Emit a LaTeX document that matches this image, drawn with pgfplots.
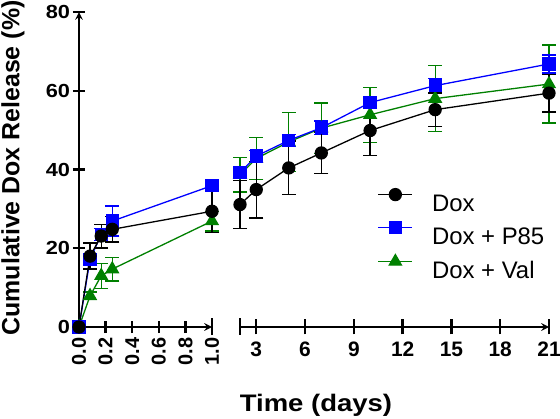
\documentclass[border=0pt]{standalone}
\usepackage{fontspec}
\setmainfont{Liberation Sans}
\newfontfamily\widefont[FakeStretch=1.15]{Liberation Sans}
\usepackage{pgfplots}
\pgfplotsset{compat=1.18}
\definecolor{cblue}{RGB}{0,0,255}
\definecolor{cgreen}{RGB}{0,128,0}

\pgfplotstableread{
x y e
0 0 0
0.083 18.0 3.3
0.167 23.1 3.0
0.25 24.8 3.2
1.0 29.4 5.4
}\doxL
\pgfplotstableread{
x y e
2 31.1 6.1
3 34.9 7.2
5 40.4 6.8
7 44.2 5.3
10 49.9 6.3
14 55.2 4.2
21 59.4 4.8
}\doxR
\pgfplotstableread{
x y e
0 0 0
0.083 17.2 1.5
0.167 23.5 1.5
0.25 26.9 3.8
1.0 35.9 1.0
}\pL
\pgfplotstableread{
x y e
2 39.2 1.5
3 43.4 1.5
5 47.4 1.5
7 50.6 1.7
10 57.0 1.5
14 61.3 1.8
21 66.8 2.3
}\pR
\pgfplotstableread{
x y e
0 0 0
0.083 7.9 1.0
0.167 13.0 3.2
0.25 14.7 3.0
1.0 26.9 2.5
}\vL
\pgfplotstableread{
x y e
2 38.7 4.4
3 42.8 5.3
5 47.0 7.5
7 50.5 6.4
10 53.9 7.0
14 58.0 8.4
21 61.7 9.9
}\vR

\pgfplotsset{
 common/.style={
  scale only axis, ymin=0, ymax=80, clip=false,
  tick align=outside,
  every tick/.style={black, line width=2.4bp},
  axis line style={line width=2.4bp, -},
  /pgf/number format/assume math mode=true,
  height=315bp,
 },
 ser/.style={line width=1.3bp,
   /pgfplots/error bars/y dir=both, /pgfplots/error bars/y explicit,
   /pgfplots/error bars/error bar style={line width=1.3bp},
   /pgfplots/error bars/error mark options={rotate=90, mark size=7bp, line width=1.3bp}},
 sdox/.style={black, mark=*, mark size=6bp, ser},
 sp/.style={cblue, mark=square*, mark size=6bp, ser},
 sv/.style={cgreen, mark=triangle*, mark size=7bp, ser},
}

\begin{document}
\begin{tikzpicture}
\useasboundingbox (0,0) rectangle (560bp,419bp);
\begin{axis}[common, at={(79bp,92bp)}, anchor=south west, width=133bp,
  axis x line=bottom, axis y line=left,
  xmin=0, xmax=1, xtick={0,0.2,0.4,0.6,0.8,1.0}, ytick={0,20,40,60,80},
  major tick length=12bp,
  xticklabel style={font=\fontsize{20}{22}\selectfont\bfseries, rotate=90, anchor=east, xshift=-1bp, /pgf/number format/.cd, fixed, fixed zerofill, precision=1},
  yticklabel style={font=\fontsize{19}{21}\selectfont\widefont\bfseries, xshift=0.5bp}]
\addplot[sv] table[x=x,y=y,y error=e] {\vL};
\addplot[sp] table[x=x,y=y,y error=e] {\pL};
\addplot[sdox] table[x=x,y=y,y error=e] {\doxL};
\draw[line width=2.4bp] ([yshift=-8bp]axis cs:1,0) -- ([yshift=9bp]axis cs:1,0);
\end{axis}
\begin{axis}[common, at={(240bp,92bp)}, anchor=south west, width=309bp,
  axis x line=bottom, axis y line=none,
  xmin=2, xmax=21, xtick={3,6,...,21},
  major tick length=15bp,
  xticklabel style={font=\fontsize{21}{23}\selectfont\bfseries, yshift=-4bp},
  legend style={at={(rel axis cs:0.445,0.44)}, anchor=north west, draw=none, fill=none,
    font=\fontsize{24}{26}\selectfont, row sep=10bp, inner sep=0pt,
    nodes={inner sep=0pt, text height=17bp, text depth=0bp},
    /tikz/every odd column/.append style={column sep=19bp}},
  legend cell align=left,
  legend image code/.code={\draw[mark repeat=2,mark phase=2,#1] plot coordinates {(0bp,8.5bp) (17bp,8.5bp) (34bp,8.5bp)};}]
\addlegendimage{black, line width=1.3bp, mark=*, mark size=6bp}
\addlegendentry{Dox}
\addlegendimage{cblue, line width=1.3bp, mark=square*, mark size=6bp}
\addlegendentry{Dox + P85}
\addlegendimage{cgreen, line width=1.3bp, mark=triangle*, mark size=7bp}
\addlegendentry{Dox + Val}
\addplot[forget plot, sv] table[x=x,y=y,y error=e] {\vR};
\addplot[forget plot, sp] table[x=x,y=y,y error=e] {\pR};
\addplot[forget plot, sdox] table[x=x,y=y,y error=e] {\doxR};
\draw[line width=2.4bp] ([yshift=-8bp]axis cs:2,0) -- ([yshift=9bp]axis cs:2,0);
\end{axis}
\node[rotate=90, font=\fontsize{25}{27}\selectfont\bfseries] at (13bp,251bp) {Cumulative Dox Release (\%)};
\node[font=\fontsize{24}{26}\selectfont\widefont\bfseries] at (316bp,14bp) {Time (days)};
\end{tikzpicture}
\end{document}
